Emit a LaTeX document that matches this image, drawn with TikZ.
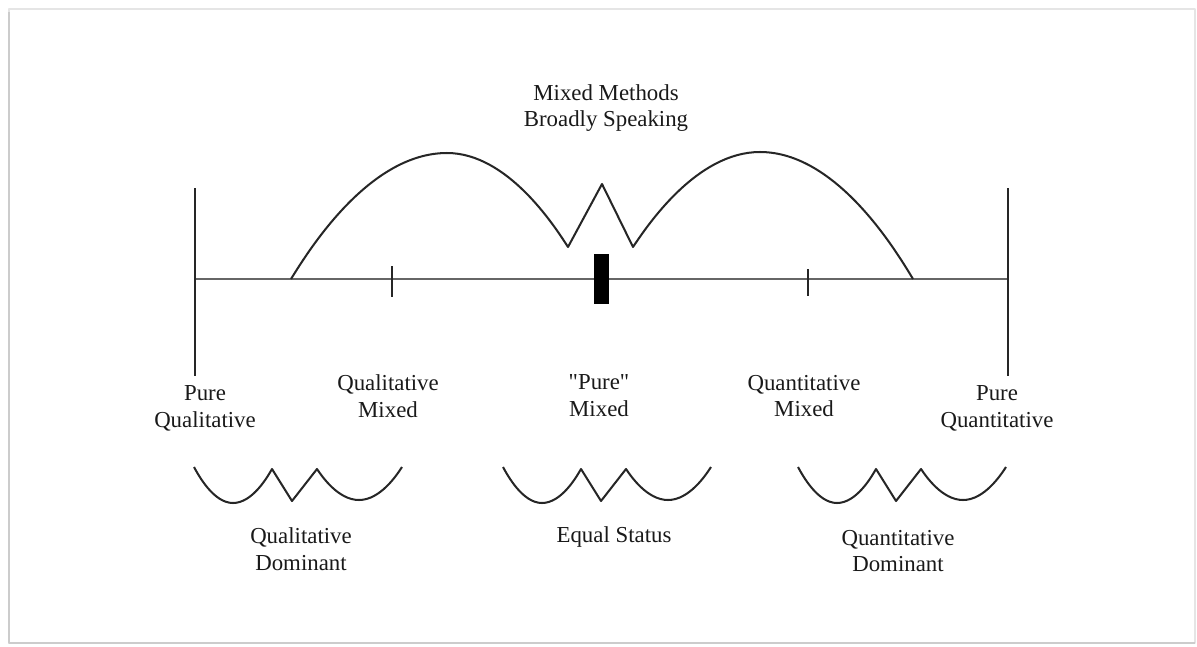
\documentclass[tikz,border=0pt]{standalone}
\usepackage{fontspec}
\setmainfont{Liberation Serif}[Ligatures=TeXOff]
\begin{document}
\begin{tikzpicture}[x=0.2mm, y=-0.2mm, line join=round,
    lbl/.style = {align=center, inner sep=0pt, text=black!90, font=\fontsize{13}{15.3}\selectfont},
    crv/.style = {line width=1.15pt, black!85}]
    \useasboundingbox (0,0) rectangle (1197,646);
    % cornice
    \draw[gray!20, line width=0.8pt] (9,9) rectangle (1195,643);
    \draw[gray!40, line width=1.6pt] (9,12) -- (9,643) -- (1195,643);

    % asse orizzontale e estremi
    \coordinate (L) at (195,279);
    \coordinate (R) at (1008,279);
    \coordinate (Ltop) at (195,188);
    \coordinate (Lbot) at (195,376);
    \coordinate (Rtop) at (1008,188);
    \coordinate (Rbot) at (1008,376);
    \draw[black!60, line width=0.9pt] (L) -- (R);
    \draw[crv] (Ltop) -- (Lbot);
    \draw[crv] (Rtop) -- (Rbot);

    % tacche
    \coordinate (t1a) at (392,266);
    \coordinate (t1b) at (392,297);
    \coordinate (t2a) at (808,269);
    \coordinate (t2b) at (808,296);
    \draw[crv] (t1a) -- (t1b);
    \draw[crv] (t2a) -- (t2b);
    \node[fill=black, inner sep=0pt, minimum width=3mm, minimum height=10mm] (mid) at (601.5,279) {};

    % archi sopra l'asse
    \coordinate (A1) at (291,279);
    \coordinate (V1) at (568,247);
    \coordinate (P) at (602,184);
    \coordinate (V2) at (633,247);
    \coordinate (A2) at (913,279);
    \draw[crv] (A1) parabola bend (447,153) (V1) -- (P) -- (V2) parabola bend (760,152) (A2);

    % onde sotto
    \foreach \x in {194,503,798}
        \draw[crv, shift={(\x,467)}] (0,0) parabola bend (39,36) (78,2) -- (98,34) -- (123,2) parabola bend (165,33) (208,0);

    % etichette
    \node[lbl] (mm) at (606,108) {Mixed Methods\\Broadly Speaking};
    \node[lbl] (pql) at (205,408) {Pure\\Qualitative};
    \node[lbl] (qlm) at (388,396) {Qualitative\\Mixed};
    \node[lbl] (pm) at (599,396) {"Pure"\\Mixed};
    \node[lbl] (qnm) at (804,396) {Quantitative\\Mixed};
    \node[lbl] (pqn) at (997,408) {Pure\\Quantitative};
    \node[lbl] (qld) at (301,549) {Qualitative\\Dominant};
    \node[lbl] (es) at (614,537) {Equal Status};
    \node[lbl] (qnd) at (898,551) {Quantitative\\Dominant};
\end{tikzpicture}
\end{document}
